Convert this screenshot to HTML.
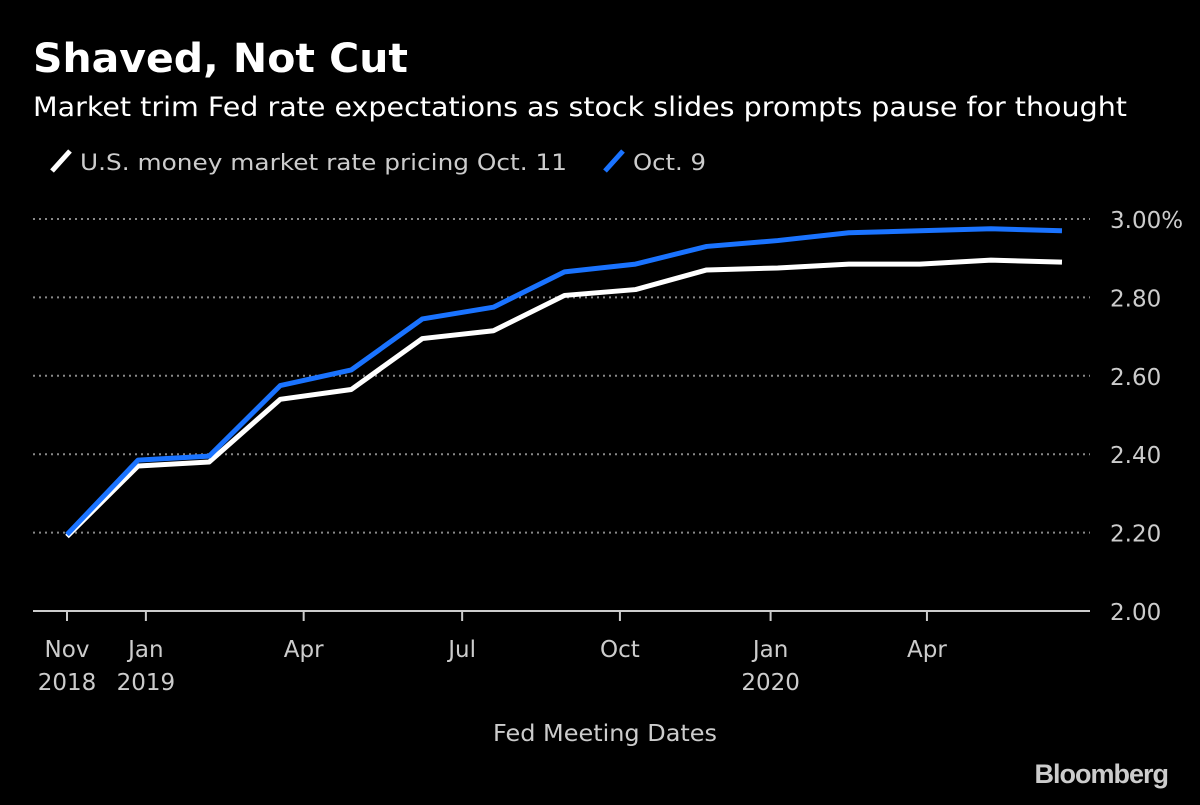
<!DOCTYPE html>
<html><head><meta charset="utf-8"><style>
body{margin:0;background:#000;width:1200px;height:805px;overflow:hidden;font-family:"DejaVu Sans","Liberation Sans",sans-serif;color:#fff}
</style></head><body>
<svg width="1200" height="805" style="position:absolute;left:0;top:0">
<text x="33" y="72" font-size="40" font-weight="bold" fill="#fff" textLength="375" lengthAdjust="spacingAndGlyphs">Shaved, Not Cut</text>
<text x="33" y="116" font-size="27" fill="#fff" textLength="1094" lengthAdjust="spacingAndGlyphs">Market trim Fed rate expectations as stock slides prompts pause for thought</text>
<g>
<line x1="52" y1="171" x2="70" y2="151" stroke="#fff" stroke-width="5"/>
<text x="80" y="170" font-size="22" fill="#ccc" textLength="487" lengthAdjust="spacingAndGlyphs">U.S. money market rate pricing Oct. 11</text>
<line x1="605" y1="171" x2="623" y2="151" stroke="#1a73ff" stroke-width="5"/>
<text x="633" y="170" font-size="22" fill="#ccc" textLength="73" lengthAdjust="spacingAndGlyphs">Oct. 9</text>
</g>
<g id="plot"></g>
<text x="493" y="741" font-size="23" fill="#ccc" textLength="224" lengthAdjust="spacingAndGlyphs">Fed Meeting Dates</text>
<text x="1168" y="783" font-size="27" font-weight="bold" fill="#ccc" text-anchor="end" font-family="Liberation Sans" letter-spacing="-1">Bloomberg</text>
</svg>
<script>
const white=[2.19,2.37,2.38,2.54,2.565,2.695,2.715,2.805,2.82,2.87,2.875,2.885,2.885,2.895,2.89];
const blue=[2.195,2.385,2.395,2.575,2.615,2.745,2.775,2.865,2.885,2.93,2.945,2.965,2.97,2.975,2.97];
const yTicks=[2.0,2.2,2.4,2.6,2.8,3.0];
const yTickLabels=["2.00","2.20","2.40","2.60","2.80","3.00%"];
const xTickPos=[0,1.11,3.33,5.56,7.78,9.9,12.1];
const xTickLine1=["Nov","Jan","Apr","Jul","Oct","Jan","Apr"];
const xTickLine2=["2018","2019","","","","2020",""];
const NS="http://www.w3.org/2000/svg";
const g=document.getElementById('plot');
const X=i=>67+i*71.07;
const Y=v=>611-(v-2)*392;
function mk(t,a){const e=document.createElementNS(NS,t);for(const k in a)e.setAttribute(k,a[k]);g.appendChild(e);return e;}
yTicks.forEach((v,i)=>{
 if(v>2){const l=mk('line',{x1:33,x2:1090,y1:Y(v),y2:Y(v),stroke:'#888','stroke-width':2,'stroke-dasharray':'2,4'});
 
 }
 const t=mk('text',{x:1110,y:Y(v)+9,'font-size':23,fill:'#ccc'});t.textContent=yTickLabels[i];
 
 
});
const base=mk('line',{x1:33,x2:1090,y1:611,y2:611,stroke:'#ccc','stroke-width':2});


xTickPos.forEach((p,i)=>{
 const tk=mk('line',{x1:X(p),x2:X(p),y1:611,y2:621,stroke:'#ccc','stroke-width':2});
 
 
 const t=mk('text',{x:X(p),y:657,'font-size':23,fill:'#ccc','text-anchor':'middle'});t.textContent=xTickLine1[i];
 
 
 if(xTickLine2[i]){const t2=mk('text',{x:X(p),y:690,'font-size':23,fill:'#ccc','text-anchor':'middle'});t2.textContent=xTickLine2[i];
 
 }
});
function line(arr,c,name){
 const p=mk('polyline',{points:arr.map((v,i)=>X(i)+','+Y(v)).join(' '),fill:'none',stroke:c,'stroke-width':5,'stroke-linejoin':'round'});
 
 
}
line(white,'#fff','series-oct11-line');
line(blue,'#1a73ff','series-oct9-line');
</script>
</body></html>
